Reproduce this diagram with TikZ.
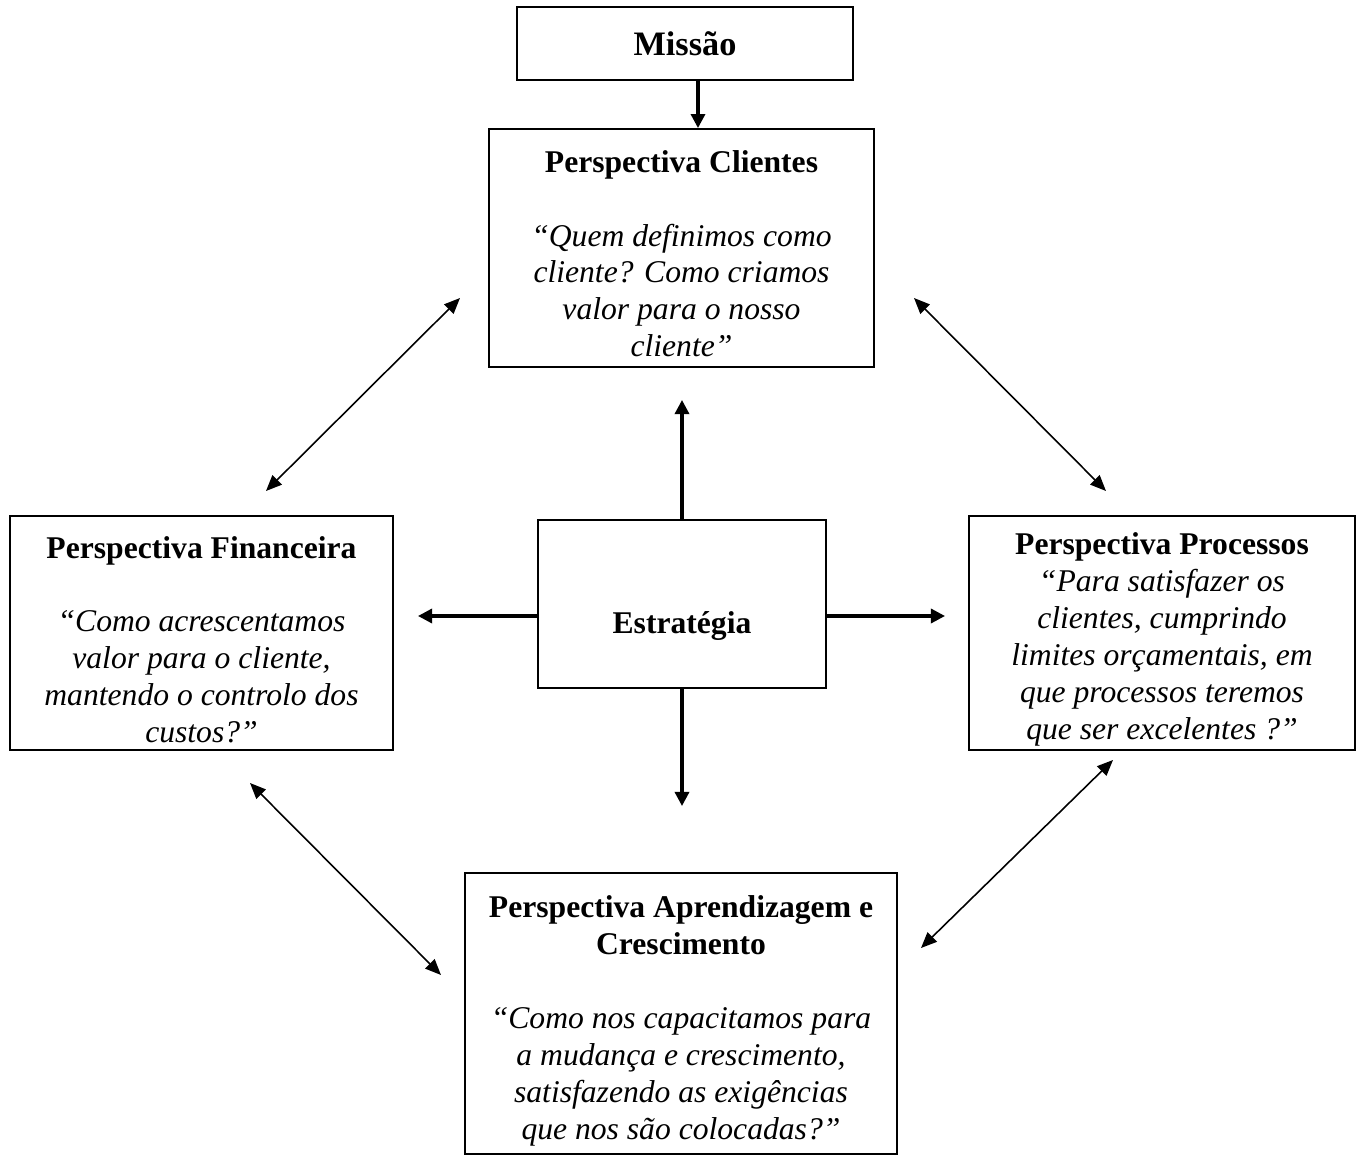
\documentclass[tikz,border=0pt]{standalone}
\usepackage{fontspec}
\setmainfont{Liberation Serif}
\usetikzlibrary{positioning, arrows.meta}

\begin{document}
\begin{tikzpicture}[
    x=0.02cm, y=-0.02cm,
    >={Triangle[length=8pt, width=8pt]},
    every node/.style={font=\fontsize{18}{21}\selectfont},
    box/.style={draw, line width=1.1pt, align=center, inner sep=0pt},
    big/.style={->, line width=1.8pt},
    link/.style={<->, line width=0.9pt, >={Triangle[length=9pt, width=7.5pt]}}
]
\useasboundingbox (0,0) rectangle (1360,1159);

% caixas
\node[box, minimum width=6.72cm, minimum height=1.46cm, font=\fontsize{19.5}{21}\selectfont]
    (missao) at (685,43.5) {\textbf{Missão}};
\node[box, minimum width=7.7cm, minimum height=4.76cm] (clientes) at (681.5,248)
    {\rule{0pt}{19pt}\textbf{Perspectiva Clientes}\\[21pt]
     \textit{“Quem definimos como}\\ \textit{cliente? Como criamos}\\
     \textit{valor para o nosso}\\ \textit{cliente”}};
\node[box, minimum width=7.66cm, minimum height=4.68cm] (financeira) at (201.5,633)
    {\rule{0pt}{20pt}\textbf{Perspectiva Financeira}\\[21pt]
     \textit{“Como acrescentamos}\\ \textit{valor para o cliente,}\\
     \textit{mantendo o controlo dos}\\ \textit{custos?”}};
\node[box, minimum width=5.76cm, minimum height=3.36cm] (estrategia) at (682,604)
    {\raisebox{-17pt}[0pt][0pt]{\textbf{Estratégia}}};
\node[box, minimum width=7.72cm, minimum height=4.68cm] (processos) at (1162,633)
    {\rule{0pt}{20pt}\textbf{Perspectiva Processos}\\
     \textit{“Para satisfazer os}\\ \textit{clientes, cumprindo}\\
     \textit{limites orçamentais, em}\\ \textit{que processos teremos}\\
     \textit{que ser excelentes ?”}};
\node[box, minimum width=8.64cm, minimum height=5.62cm] (aprendizagem) at (681,1013.5)
    {\rule{0pt}{21pt}\textbf{Perspectiva Aprendizagem e}\\ \textbf{Crescimento}\\[21pt]
     \textit{“Como nos capacitamos para}\\ \textit{a mudança e crescimento,}\\
     \textit{satisfazendo as exigências}\\ \textit{que nos são colocadas?”}};

% pontas livres das setas
\coordinate (cima) at (682,400);
\coordinate (baixo) at (682,806);
\coordinate (esq) at (418,616);
\coordinate (dir) at (945,616);
\coordinate (a1) at (460,298); \coordinate (a2) at (266,491);
\coordinate (b1) at (914,298); \coordinate (b2) at (1106,491);
\coordinate (c1) at (250,783); \coordinate (c2) at (441,975);
\coordinate (d1) at (1113,760); \coordinate (d2) at (921,948);

% setas
\draw[big] (698,0 |- missao.south) -- (698,0 |- clientes.north);
\draw[big] (estrategia.north -| cima) -- (cima);
\draw[big] (estrategia.south -| baixo) -- (baixo);
\draw[big] (estrategia.west |- esq) -- (esq);
\draw[big] (estrategia.east |- dir) -- (dir);

\draw[link] (a1) -- (a2);
\draw[link] (b1) -- (b2);
\draw[link] (c1) -- (c2);
\draw[link] (d1) -- (d2);

\end{tikzpicture}
\end{document}
